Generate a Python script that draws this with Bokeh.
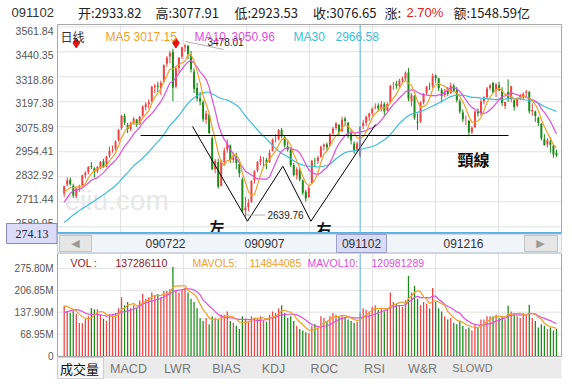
import numpy as np
from bokeh.plotting import figure
from bokeh.models import Range1d
from bokeh.layouts import column
from bokeh.embed import file_html
from bokeh.resources import INLINE
from bokeh.core.properties import value

# ------------------------------------------------------------------ data
cursor_date = "091102"
hdr_open, hdr_high, hdr_low, hdr_close = 2933.82, 3077.91, 2923.53, 3076.65
hdr_change = "2.70%"
hdr_amount = "1548.59亿"
ma_vals = [3017.15, 3050.96, 2966.58]          # MA5, MA10, MA30 at cursor
vol_vals = [137286110, 114844085, 120981289]   # VOL, MAVOL5, MAVOL10 at cursor
cursor_price_label = "274.13"

# closes of the 29 sessions before the first candle (for the moving averages)
pre_close = [2497, 2430, 2374, 2447, 2477, 2559, 2567, 2609, 2597, 2573, 2580, 2583, 2592, 2605,
             2625, 2643, 2651, 2645, 2611, 2610, 2602, 2586, 2632, 2721, 2760, 2768, 2741, 2753, 2751]

opens = [
    2752, 2795, 2818, 2790, 2740, 2780, 2790, 2842, 2855, 2885, 2875, 2860, 2882, 2908, 2885, 2935,
    2962, 2970, 3010, 3070, 3128, 3085, 3065, 3095, 3110, 3090, 3130, 3172, 3185, 3200, 3268, 3275,
    3265, 3295, 3382, 3418, 3440, 3270, 3362,
    3418, 3465, 3468, 3425, 3345, 3265, 3215, 3195, 3110, 3135, 3020, 2870, 2905, 2790, 2905, 2965,
    2985, 2915, 2925, 2895, 2820,
    2670, 2685, 2710, 2815, 2865, 2905, 2915, 2915, 2905, 2960, 3015, 3015, 3060, 3025, 2980, 2965,
    2890, 2840, 2865, 2815, 2760, 2735,
    2800, 2915, 2910, 2930, 2980, 2990, 2985, 3045, 3070, 3085, 3055, 3115, 3095, 3045, 2995, 2965,
    2933.82, 3080, 3095, 3125, 3140, 3170, 3180, 3165, 3185, 3155, 3195, 3280, 3285, 3275, 3300, 3310,
    3340, 3200, 3225, 3100, 3100,
    3195, 3240, 3270, 3275, 3325, 3310, 3255, 3230, 3250, 3240, 3275, 3255, 3200, 3145, 3110, 3105,
    3050, 3075, 3150, 3140, 3200, 3220, 3265,
    3289, 3254, 3278, 3253, 3177, 3245, 3210, 3205, 3178, 3215, 3218, 3240, 3245, 3150, 3150, 3120,
    3090, 3015, 2990, 3005,
    2985, 2950]
highs = [
    2790, 2830, 2830, 2800, 2780, 2795, 2843, 2860, 2885, 2905, 2880, 2885, 2910, 2920, 2935, 2980,
    2985, 3010, 3065, 3135, 3140, 3095, 3100, 3125, 3115, 3130, 3180, 3195, 3210, 3275, 3285, 3295,
    3300, 3380, 3420, 3445, 3455, 3365, 3415,
    3465, 3478.01, 3475, 3445, 3360, 3290, 3245, 3205, 3155, 3140, 3030, 2920, 2920, 2915, 2975, 3015,
    2990, 2950, 2950, 2905, 2830,
    2735, 2725, 2815, 2865, 2910, 2935, 2930, 2925, 2965, 3020, 3040, 3065, 3070, 3035, 3005, 2970,
    2900, 2880, 2875, 2820, 2770, 2790,
    2915, 2925, 2935, 2985, 2995, 3000, 3045, 3075, 3100, 3090, 3125, 3125, 3100, 3060, 3005, 3005,
    3077.91, 3110, 3130, 3145, 3170, 3190, 3190, 3200, 3195, 3195, 3280, 3295, 3300, 3310, 3320, 3345,
    3361, 3240, 3230, 3140, 3200,
    3240, 3275, 3290, 3335, 3330, 3315, 3265, 3260, 3270, 3290, 3285, 3270, 3210, 3160, 3130, 3110,
    3080, 3155, 3165, 3210, 3225, 3270, 3285,
    3295, 3290, 3295, 3268, 3198, 3306, 3275, 3210, 3218, 3236, 3243, 3255, 3250, 3190, 3155, 3125,
    3095, 3040, 3020, 3025,
    2990, 2965]
lows = [
    2735, 2786, 2790, 2731, 2730, 2760, 2785, 2825, 2845, 2870, 2830, 2850, 2870, 2875, 2880, 2925,
    2950, 2960, 3005, 3060, 3085, 3045, 3055, 3085, 3075, 3085, 3125, 3155, 3165, 3195, 3240, 3245,
    3230, 3290, 3368, 3385, 3200, 3262, 3340,
    3405, 3440, 3405, 3340, 3240, 3200, 3180, 3100, 3090, 3040, 2865, 2850, 2776, 2785, 2890, 2950,
    2900, 2900, 2870, 2830, 2660,
    2639.76, 2665, 2705, 2800, 2855, 2890, 2880, 2870, 2900, 2955, 3000, 3010, 3020, 2975, 2955, 2880,
    2835, 2820, 2810, 2745, 2712, 2730,
    2800, 2880, 2895, 2925, 2960, 2960, 2980, 3030, 3060, 3030, 3050, 3085, 3020, 2990, 2945, 2955,
    2923.53, 3065, 3080, 3105, 3130, 3160, 3150, 3150, 3130, 3150, 3190, 3255, 3260, 3265, 3290, 3300,
    3200, 3175, 3110, 3060, 3095,
    3185, 3230, 3255, 3265, 3290, 3250, 3195, 3220, 3225, 3235, 3245, 3195, 3140, 3100, 3085, 3030,
    3040, 3070, 3125, 3130, 3185, 3215, 3255,
    3241, 3221, 3250, 3176, 3162, 3197, 3195, 3155, 3170, 3205, 3204, 3225, 3140, 3130, 3100, 3080,
    3010, 2985, 2975, 2950,
    2925, 2930]
closes = [
    2787, 2816, 2797, 2743, 2776, 2785, 2840, 2853, 2880, 2881, 2855, 2880, 2905, 2880, 2930, 2959,
    2966, 3005, 3060, 3130, 3095, 3065, 3090, 3115, 3085, 3125, 3175, 3185, 3195, 3270, 3275, 3270,
    3290, 3375, 3412, 3435, 3266, 3360, 3412,
    3462, 3471, 3428, 3355, 3260, 3214, 3200, 3112, 3140, 3046, 2870, 2911, 2785, 2910, 2960, 2995,
    2915, 2925, 2900, 2850, 2667,
    2683, 2706, 2814, 2860, 2905, 2920, 2915, 2900, 2950, 3013, 3015, 3060, 3030, 2985, 2965, 2890,
    2842, 2870, 2820, 2755, 2727, 2779,
    2911, 2913, 2927, 2979, 2990, 2977, 3040, 3068, 3092, 3050, 3110, 3104, 3040, 3010, 2963, 2995.85,
    3076.65, 3096, 3125, 3140, 3164, 3175, 3165, 3185, 3150, 3187, 3275, 3282, 3275, 3300, 3308, 3338,
    3212, 3230, 3120, 3096, 3195,
    3235, 3270, 3269, 3322, 3312, 3265, 3225, 3245, 3235, 3275, 3250, 3205, 3150, 3113, 3110, 3050,
    3070, 3150, 3140, 3200, 3218, 3262, 3277,
    3243, 3282, 3254, 3192, 3196, 3212, 3273, 3172, 3215, 3224, 3237, 3246, 3151, 3158, 3128, 3094,
    3019, 2986, 3010, 2989,
    2941, 2937]

# volume in millions (9 earlier sessions for the volume averages)
pre_vol = [105, 110, 118, 115, 122, 150, 165, 160, 157]
volume_m = [
    158, 142, 136, 141, 132, 104, 104, 117, 125, 151, 147, 147, 130, 117, 111, 132,
    128, 135, 150, 185, 160, 170, 150, 160, 150, 175, 195, 180, 185, 200, 190, 195, 185, 205, 205,
    210, 280, 205, 200,
    210, 215, 200, 180, 170, 150, 120, 110, 120, 100, 125, 120, 115, 130, 130, 140, 110, 105, 95, 85, 125,
    118, 110, 125, 120, 118, 125, 112, 108, 130, 140, 135, 150, 160, 135, 120, 125, 110, 95, 85, 80, 75, 72,
    95, 100, 90, 125, 120, 110, 125, 135, 130, 125, 125, 120.6, 115, 110, 105, 106.93,
    137.29, 150, 145, 140, 155, 160, 145, 150, 140, 145, 200, 170, 165, 160, 155, 175, 252, 200, 221, 180, 160,
    170, 165, 150, 214, 170, 150, 140, 125, 115, 120, 105, 100, 110, 95, 85, 90, 80, 100, 90, 115, 115, 125, 125,
    125, 130, 120, 125, 115, 158, 140, 130, 125, 120, 135, 130, 161, 120, 110, 90, 100, 95, 85, 90,
    80, 85]

price_ticks = [2589.95, 2711.44, 2832.92, 2954.41, 3075.89, 3197.38, 3318.86, 3440.35, 3561.84]
vol_ticks = [0, 68.95, 137.90, 206.85, 275.80]
scroll_labels = ["090722", "090907", "091102", "091216"]
tab_labels = ["成交量", "MACD", "LWR", "BIAS", "KDJ", "ROC", "RSI", "W&R", "SLOWD"]
cursor_idx = 98
marker_idx = [4, 37]
peak_idx, trough_idx = 40, 60
# hand-drawn pattern (double bottom "W") and neckline, in candle index / price
w_idx = [42.5, 60.7, 72.4, 81.7, 103.1]
w_price = [3077.3, 2617.2, 2884.4, 2617.2, 3087.1]
neck_idx = [25.3, 147.1]
neck_price = 3033.6

# ------------------------------------------------------------------ helpers (image pixels -> data)
X0, DX = 63.7, 3.02
def ix(px):
    return (px - X0) / DX
PPX = (3561.84 - 2589.95) / 8 / 25.0
def py(yp):
    return 3075.89 + (126.3 - yp) * PPX
VPX = 68.95 / 21.9
def vy(yp):
    return (355.5 - yp) * VPX

RED, GREEN = "#ee4444", "#1b8a1b"
C5, C10, C30 = "#f0a028", "#dc50dc", "#3cbedc"
CUR = "#5aaee0"
GRID = "#e2e2e2"
BORDER = "#a8a8a8"
SANS = "Liberation Sans"
CJK = "Noto Sans CJK SC"

n = len(closes)
idx = np.arange(n)
o = np.array(opens, float); h = np.array(highs, float)
l = np.array(lows, float); c = np.array(closes, float)
up = c >= o
col = np.where(up, RED, GREEN).tolist()
allc = np.array(pre_close + closes, float)
def ma(a, k):
    m = np.convolve(a, np.ones(k) / k, mode="valid")
    return m[len(m) - n:]
ma5, ma10, ma30 = ma(allc, 5), ma(allc, 10), ma(allc, 30)
allv = np.array(pre_vol + volume_m, float)
mv5, mv10 = ma(allv, 5), ma(allv, 10)
vol = np.array(volume_m, float)

grid_px = [120, 183, 246, 309, 372, 435, 498]

def put_text(fig, yconv, items, size, font, color, align="left", style="normal"):
    fig.text(x=[ix(a) for a, b, t in items], y=[yconv(b) for a, b, t in items],
             text=[t for a, b, t in items], text_font=value(font), text_font_size=size,
             text_color=color, text_align=align, text_baseline="middle", text_font_style=style)

def band(fig, yconv, x0, x1, y0, y1, fill, line=None):
    fig.quad(left=ix(x0), right=ix(x1), top=yconv(y0), bottom=yconv(y1),
             fill_color=fill, line_color=line, line_width=1)

def make_fig(height, yr):
    f = figure(width=572, height=height, x_range=xr, y_range=yr, output_backend="svg",
               toolbar_location=None, x_axis_location=None, y_axis_location=None,
               min_border=0, outline_line_color=None,
               background_fill_color="white", border_fill_color="white")
    f.grid.visible = False
    return f

xr = Range1d(ix(0), ix(572))

# ------------------------------------------------------------------ price panel
p = make_fig(253, Range1d(py(253), py(0)))
# grid
p.segment(x0=ix(57), x1=ix(561), y0=price_ticks, y1=price_ticks, color=GRID, line_width=1)
p.segment(x0=[ix(g) for g in grid_px], x1=[ix(g) for g in grid_px], y0=py(24), y1=py(233),
          color=GRID, line_width=1)
# tick labels (placed on the price scale)
p.text(x=ix(53), y=price_ticks, text=[f"{t:.2f}" for t in price_ticks], text_align="right",
       text_baseline="middle", text_font=value(SANS), text_font_size="10.5px", text_color="#555555",
       y_offset=[-3.3 + k for k in range(len(price_ticks))])

# watermark
put_text(p, py, [(64, 200, "eiiu.com")], "28px", SANS, "#e8e8e8")

# candles
p.segment(x0=idx, y0=l, x1=idx, y1=h, color=col, line_width=1)
p.vbar(x=idx, top=np.maximum(o, c), bottom=np.minimum(o, c), width=0.66, fill_color=col, line_color=None)
# moving averages
p.line(idx, ma30, color=C30, line_width=1.2)
p.line(idx, ma10, color=C10, line_width=1.2)
p.line(idx, ma5, color=C5, line_width=1.2)

# pattern drawing
p.line(w_idx, w_price, color="black", line_width=1)
p.line(neck_idx, [neck_price, neck_price], color="black", line_width=1.2)
put_text(p, py, [(457, 158.5, "頸線")], "16px", "Noto Sans CJK TC", "#111111", style="bold")
put_text(p, py, [(209, 225.5, "左"), (316, 227.5, "右")], "15px", CJK, "#111111", style="bold")

# extreme annotations
p.segment(x0=[peak_idx + 0.2], y0=[py(41)], x1=[ix(223)], y1=[py(49)], color="#b0b0b0", line_width=1)
p.segment(x0=[trough_idx + 0.4], y0=[py(214.5)], x1=[ix(265)], y1=[py(214.5)], color="#b0b0b0", line_width=1)
put_text(p, py, [(207, 41.5, f"{highs[peak_idx]:.2f}"), (267, 214.5, f"{lows[trough_idx]:.2f}")],
         "10px", SANS, "#222222")
p.scatter(x=marker_idx, y=[py(42.5)] * len(marker_idx), marker="diamond", size=10,
          fill_color="#e81010", line_color="#e81010")

# cursor
p.segment(x0=[cursor_idx], y0=[py(24)], x1=[cursor_idx], y1=[py(233)], color=CUR, line_width=1)
p.segment(x0=[ix(57)], y0=[py(232)], x1=[ix(561)], y1=[py(232)], color=CUR, line_width=1)

# panel legend
put_text(p, py, [(60, 36, "日线")], "12px", CJK, "#333333")
put_text(p, py, [(105, 36, "MA5"), (133, 36, f"{ma_vals[0]:.2f}")], "12px", SANS, C5)
put_text(p, py, [(194, 36, "MA10"), (231, 36, f"{ma_vals[1]:.2f}")], "12px", SANS, C10)
put_text(p, py, [(293, 36, "MA30"), (335, 36, f"{ma_vals[2]:.2f}")], "12px", SANS, C30)

# header row
put_text(p, py, [(11, 11.5, cursor_date)], "13px", SANS, "#333333")
put_text(p, py, [(77.5, 11.5, f"开:{hdr_open:.2f}"), (155, 11.5, f"高:{hdr_high:.2f}"),
                 (234, 11.5, f"低:{hdr_low:.2f}"), (312.5, 11.5, f"收:{hdr_close:.2f}"),
                 (384, 11.5, "涨:"), (453, 11.5, f"额:{hdr_amount}")], "13px", CJK, "#222222")
put_text(p, py, [(406, 11.5, hdr_change)], "13px", SANS, "#e02020")
# panel border
band(p, py, 57, 561, 24, 233, None, BORDER)

# scroll bar row
band(p, py, 56, 562, 233.5, 253, "white")
band(p, py, 57, 561, 234, 252, "#f1f4f8", "#d0d8e0")
band(p, py, 59, 91, 235, 251, "#e6e6e6", "#c4c4c4")
band(p, py, 524, 557, 235, 251, "#e6e6e6", "#c4c4c4")
band(p, py, 336, 386, 234, 252, "#d9dbf6", "#9ea0c8")
put_text(p, py, [(75, 243, "◀"), (540, 243, "▶")], "11px", "DejaVu Sans", "#9a9a9a", align="center")
put_text(p, py, list(zip([165, 264, 361, 463], [243] * 4, scroll_labels)), "12px", SANS, "#333333",
         align="center")
# cursor price box on the left
band(p, py, 6, 56.5, 223, 243, "#dcdcf8", "#8a8ab0")
put_text(p, py, [(31.5, 233, cursor_price_label)], "12px", "Liberation Serif", "#222244", align="center")

# ------------------------------------------------------------------ volume panel
v = make_fig(136, Range1d(vy(389), vy(253)))
v.segment(x0=ix(57), x1=ix(561), y0=vol_ticks, y1=vol_ticks, color=GRID, line_width=1)
v.segment(x0=[ix(g) for g in grid_px], x1=[ix(g) for g in grid_px], y0=vy(253), y1=vy(356),
          color=GRID, line_width=1)
v.text(x=ix(53), y=vol_ticks, text=["0" if t == 0 else f"{t:.2f}M" for t in vol_ticks],
       text_align="right", text_baseline="middle", text_font=value(SANS), text_font_size="10px",
       text_color="#555555")

v.vbar(x=idx, top=vol, bottom=0, width=0.42, fill_color=col, line_color=None)
v.line(idx, mv10, color=C10, line_width=1.2)
v.line(idx, mv5, color=C5, line_width=1.2)
v.segment(x0=[cursor_idx], y0=[vy(253)], x1=[cursor_idx], y1=[vy(356)], color=CUR, line_width=1)

put_text(v, vy, [(70, 262, "VOL :"), (115, 262, str(vol_vals[0]))], "10.5px", SANS, "#8b1a2a")
put_text(v, vy, [(192, 262, "MAVOL5:"), (249, 262, str(vol_vals[1]))], "10.5px", SANS, C5)
put_text(v, vy, [(307, 262, "MAVOL10:"), (371, 262, str(vol_vals[2]))], "10.5px", SANS, C10)

band(v, vy, 57, 561, 253, 356, None, BORDER)
# indicator tabs
band(v, vy, 57, 561, 357, 378, "#ebebeb")
band(v, vy, 57, 103, 357, 378, "#f7f7f7", "#cfcfcf")
put_text(v, vy, [(79, 368, tab_labels[0])], "13px", CJK, "#111111", align="center")
put_text(v, vy, list(zip([128, 177, 226, 273, 324, 374, 422], [368] * 7, tab_labels[1:8])),
         "12.5px", SANS, "#777777", align="center")
put_text(v, vy, [(472, 367, tab_labels[8])], "11px", SANS, "#777777", align="center")

layout = column(p, v)
open("out.html", "w").write(file_html(layout, INLINE))
